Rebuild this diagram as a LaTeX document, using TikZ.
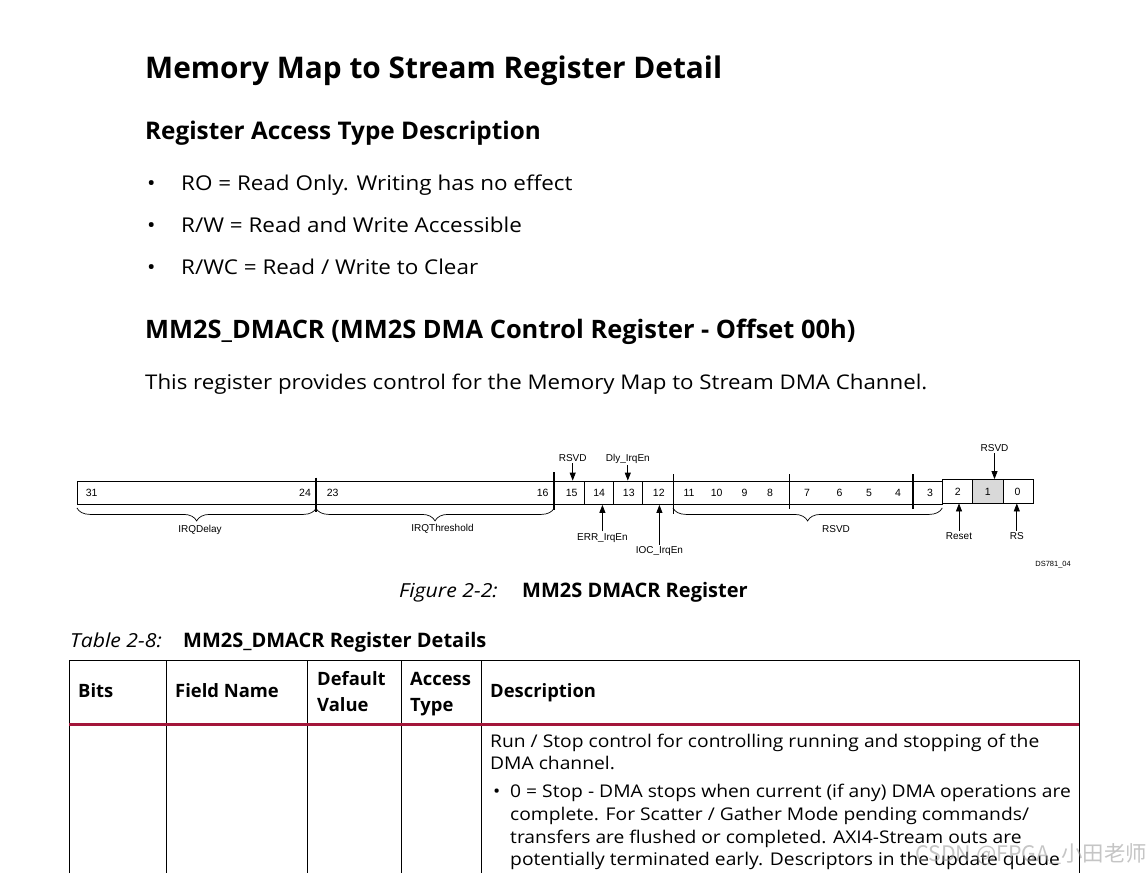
\documentclass[tikz,border=0pt]{standalone}
\usepackage{fontspec}
\setmainfont{Open Sans}
\newfontfamily\widefont[FakeStretch=1.1]{Open Sans}
\newfontfamily\regfont{Liberation Sans}
\newfontfamily\cjkfont{Noto Sans CJK SC}
\usetikzlibrary{arrows.meta,decorations.pathreplacing}
\definecolor{xred}{RGB}{163,22,58}
\definecolor{regfill}{RGB}{217,217,217}
\begin{document}
\begin{tikzpicture}[x=1pt,y=-1pt,
  txt/.style={inner sep=0pt, anchor=base west},
  hone/.style={txt, font=\fontsize{29.8}{34}\selectfont\bfseries},
  htwo/.style={txt, font=\fontsize{24.3}{28}\selectfont\bfseries},
  body/.style={txt, font=\widefont\fontsize{20.4}{24}\selectfont},
  capit/.style={txt, font=\widefont\fontsize{19.3}{23}\selectfont\itshape},
  capbf/.style={txt, font=\fontsize{20}{24}\selectfont\bfseries},
  thead/.style={txt, font=\fontsize{18.4}{22}\selectfont\bfseries},
  tbody/.style={txt, font=\widefont\fontsize{17.5}{21}\selectfont},
  regbox/.style={draw, line width=0.8pt, inner sep=0pt, font=\regfont\fontsize{10.5}{12}\selectfont},
  regnum/.style={inner sep=0pt, anchor=base, font=\regfont\fontsize{10.5}{12}\selectfont},
  reglab/.style={inner sep=1.5pt, anchor=base, font=\regfont\fontsize{10}{12}\selectfont},
  divider/.style={line width=1.4pt},
  bracestyle/.style={decorate, decoration={brace, mirror, amplitude=13pt}, line width=0.7pt},
  arr/.style={line width=0.8pt, -{Triangle[length=8pt,width=6pt]}},
  tline/.style={line width=1pt}
]
\useasboundingbox[fill=white] (0,0) rectangle (1148,873);

% Headings and text
\node[hone] (title) at (145,78.3) {Memory Map to Stream Register Detail};
\node[htwo] (sub1) at (145,139) {Register Access Type Description};
\node[body] (dot1) at (147,190) {•};
\node[body] (li1) at (181,190) {RO = Read Only. Writing has no effect};
\node[body] (dot2) at (147,232) {•};
\node[body] (li2) at (181,232) {R/W = Read and Write Accessible};
\node[body] (dot3) at (147,274) {•};
\node[body] (li3) at (181,274) {R/WC = Read / Write to Clear};
\node[htwo, font=\fontsize{25.4}{29}\selectfont\bfseries] (sub2) at (145,338) {MM2S\_DMACR (MM2S DMA Control Register - Offset 00h)};
\node[body, font=\widefont\fontsize{20.25}{24}\selectfont] (para) at (145,389) {This register provides control for the Memory Map to Stream DMA Channel.};

% Register boxes
\node[regbox, minimum width=238.7pt, minimum height=23.5pt] (f3124) at (196.65,492.75) {};
\node[regbox, minimum width=237.8pt, minimum height=23.5pt] (f2316) at (435,492.75) {};
\node[regbox, minimum width=30.3pt, minimum height=23.5pt] (b15) at (569,492.75) {};
\node[regbox, minimum width=29.2pt, minimum height=23.5pt] (b14) at (598.7,492.75) {};
\node[regbox, minimum width=29.3pt, minimum height=23.5pt] (b13) at (627.95,492.75) {};
\node[regbox, minimum width=30.7pt, minimum height=23.5pt] (b12) at (657.95,492.75) {};
\node[regbox, minimum width=268.6pt, minimum height=23.5pt] (f113) at (807.6,492.75) {};
\node[regbox, minimum width=30.3pt, minimum height=23.5pt] (b2) at (957.05,491.25) {};
\node[regbox, fill=regfill, minimum width=31pt, minimum height=23.5pt] (b1) at (987.7,491.25) {};
\node[regbox, minimum width=29.9pt, minimum height=23.5pt] (b0) at (1018.15,491.25) {};

% bit numbers
\foreach \nm/\xx/\lab in {n31/91.7/31, n24/305/24, n23/332.7/23, n16/542.7/16, n15/571.7/15, n14/599.2/14, n13/628.8/13, n12/658.8/12, n11/689/11, n10/716.7/10, n9/744.5/9, n8/770/8, n7/807/7, n6/839.6/6, n5/869/5, n4/898/4, n3/930/3}
  \node[regnum] (\nm) at (\xx,496.5) {\lab};
\foreach \nm/\xx/\lab in {n2/957.7/2, n1/987.7/1, n0/1017.6/0}
  \node[regnum] (\nm) at (\xx,495.2) {\lab};

% dividers
\coordinate (d1t) at (316,477.7);   \coordinate (d1b) at (316,511.7);
\coordinate (d2t) at (553.8,472);   \coordinate (d2b) at (553.8,510);
\coordinate (d3t) at (673.3,474.4); \coordinate (d3b) at (673.3,514);
\coordinate (d4t) at (789.7,474);   \coordinate (d4b) at (789.7,509);
\coordinate (d5t) at (912.9,474);   \coordinate (d5b) at (912.9,509);
\foreach \i in {1,...,5} \draw[divider] (d\i t) -- (d\i b);

% braces
\draw[bracestyle] ([yshift=-3pt]f3124.south west) -- ([yshift=-3pt]f3124.south east);
\draw[bracestyle] ([yshift=-3pt]f2316.south west) -- ([yshift=-3pt]f2316.south east);
\draw[bracestyle] ([yshift=-3pt]f113.south west) -- ([yshift=-3pt]f113.south east);
\node[reglab] (irqd) at (200,532.5) {IRQDelay};
\node[reglab] (irqt) at (442.5,531) {IRQThreshold};
\node[reglab] (rsvdb) at (836,532.5) {RSVD};

% labels with arrows
\node[reglab] (rsvd15) at (572.7,461.5) {RSVD};
\node[reglab] (dly) at (627.8,461.5) {Dly\_IrqEn};
\node[reglab] (rsvd1) at (994.5,451.5) {RSVD};
\node[reglab] (err) at (602.4,540) {ERR\_IrqEn};
\node[reglab] (ioc) at (659.4,553.5) {IOC\_IrqEn};
\node[reglab] (reset) at (959,539.5) {Reset};
\node[reglab] (rs) at (1016.8,539.5) {RS};
\node[reglab, font=\regfont\fontsize{7.5}{9}\selectfont, anchor=base east] (ds) at (1072.5,566.5) {DS781\_04};

\draw[arr] (rsvd15.south) -- (rsvd15.south |- b15.north);
\draw[arr] (dly.south) -- (dly.south |- b13.north);
\draw[arr] (rsvd1.south) -- (rsvd1.south |- b1.north);
\draw[arr] (err.north) -- (err.north |- b14.south);
\draw[arr] (ioc.north) -- (ioc.north |- b12.south);
\draw[arr] (reset.north) -- (reset.north |- b2.south);
\draw[arr] (rs.north) -- (rs.north |- b0.south);

% captions
\node[capit] (figl) at (399,597) {Figure 2-2:};
\node[capbf] (figt) at (522,597) {MM2S DMACR Register};
\node[capit] (tabl) at (70,647) {Table 2-8:};
\node[capbf] (tabt) at (183,647) {MM2S\_DMACR Register Details};

% table
\draw[tline] (69.3,873) -- (69.3,660.7) -- (1079,660.7) -- (1079,873);
\foreach \xx in {166,307.5,401,481} \draw[tline] (\xx,660.7) -- (\xx,873);
\draw[xred, line width=3pt] (69.3,724.3) -- (1079,724.3);

\node[thead] (hbits) at (78,697.7) {Bits};
\node[thead] (hfield) at (175,697.7) {Field Name};
\node[thead] (hdef1) at (317,685) {Default};
\node[thead] (hdef2) at (317,711) {Value};
\node[thead] (hacc1) at (410,685) {Access};
\node[thead] (hacc2) at (410,711) {Type};
\node[thead] (hdesc) at (490,697.7) {Description};

\node[tbody] (t1) at (490,747) {Run / Stop control for controlling running and stopping of the};
\node[tbody] (t2) at (490,769) {DMA channel.};
\node[tbody] (tdot) at (493,797.5) {•};
\node[tbody] (t3) at (510,797.5) {0 = Stop - DMA stops when current (if any) DMA operations are};
\node[tbody] (t4) at (510,820.3) {complete. For Scatter / Gather Mode pending commands/};
\node[tbody] (t5) at (510,843) {transfers are flushed or completed. AXI4-Stream outs are};
\node[tbody] (t6) at (510,865.7) {potentially terminated early. Descriptors in the update queue};

% watermark
\node[txt, font=\cjkfont\fontsize{21.4}{25}\selectfont, text={rgb,255:red,150;green,150;blue,150}, opacity=0.55] (wm) at (915,861) {CSDN @FPGA\_小田老师};
\end{tikzpicture}
\end{document}
